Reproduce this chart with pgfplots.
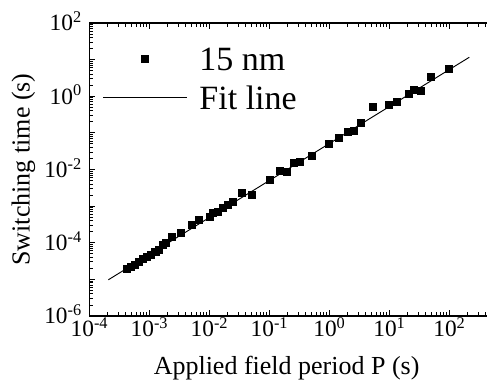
\documentclass[border=0pt]{standalone}
\usepackage{fontspec}
\setmainfont{Liberation Serif}
\usepackage{pgfplots}
\pgfplotsset{compat=1.18}
\pgfplotsset{
  mylegmark/.style={legend image code/.code={\draw[mark repeat=2,mark phase=2,##1] plot coordinates {(0pt,0pt) (31.5pt,0pt) (63pt,0pt)};}},
  mylegline/.style={legend image code/.code={\draw[##1] plot coordinates {(0pt,0pt) (63pt,0pt)};}},
}
\begin{document}
\begin{tikzpicture}
\begin{axis}[
  xmode=log, ymode=log,
  scale only axis,
  width=299.7pt, height=219.75pt,
  xmin=1e-4, xmax=457.1, ymin=1e-6, ymax=1e2,
  axis line style={line width=0.9pt},
  xtick pos=both, ytick pos=left,
  tick align=inside,
  major tick length=4.5pt, minor tick length=2.8pt,
  every tick/.style={black, line width=0.7pt},
  xtick={1e-4,1e-3,1e-2,1e-1,1,10,100},
  xticklabels={10\textsuperscript{-4},10\textsuperscript{-3},10\textsuperscript{-2},10\textsuperscript{-1},10\textsuperscript{0},10\textsuperscript{1},10\textsuperscript{2}},
  minor xtick={2e-4,3e-4,4e-4,5e-4,6e-4,7e-4,8e-4,9e-4,
    2e-3,3e-3,4e-3,5e-3,6e-3,7e-3,8e-3,9e-3,
    2e-2,3e-2,4e-2,5e-2,6e-2,7e-2,8e-2,9e-2,
    0.2,0.3,0.4,0.5,0.6,0.7,0.8,0.9,
    2,3,4,5,6,7,8,9,
    20,30,40,50,60,70,80,90,
    200,300,400},
  ytick={1e-6,1e-5,1e-4,1e-3,1e-2,1e-1,1,10,100},
  yticklabels={10\textsuperscript{-6},,10\textsuperscript{-4},,10\textsuperscript{-2},,10\textsuperscript{0},,10\textsuperscript{2}},
  minor ytick={2e-6,3e-6,4e-6,5e-6,6e-6,7e-6,8e-6,9e-6,
    2e-5,3e-5,4e-5,5e-5,6e-5,7e-5,8e-5,9e-5,
    2e-4,3e-4,4e-4,5e-4,6e-4,7e-4,8e-4,9e-4,
    2e-3,3e-3,4e-3,5e-3,6e-3,7e-3,8e-3,9e-3,
    2e-2,3e-2,4e-2,5e-2,6e-2,7e-2,8e-2,9e-2,
    0.2,0.3,0.4,0.5,0.6,0.7,0.8,0.9,
    2,3,4,5,6,7,8,9,
    20,30,40,50,60,70,80,90},
  xticklabel style={font=\fontsize{17.5}{20}\selectfont, inner sep=0pt, anchor=base, yshift=-15.5pt},
  yticklabel style={font=\fontsize{17.5}{20}\selectfont, inner sep=0pt, anchor=base east, xshift=-5.5pt, yshift=-5.9pt},
  xlabel={Applied field period P (s)},
  ylabel={Switching time (s)},
  xlabel style={font=\fontsize{19.5}{22}\selectfont, at={(rel axis cs:0.5,0)}, anchor=base, yshift=-44.25pt, xshift=-2pt},
  ylabel style={font=\fontsize{19.5}{22}\selectfont, at={(rel axis cs:0,0.5)}, anchor=center, yshift=49.5pt},
  legend style={at={(rel axis cs:0,1)}, anchor=north west, xshift=9.6pt, yshift=-17.5pt,
    draw=none, fill=none, font=\fontsize{25.5}{30}\selectfont,
    row sep=11pt, column sep=9pt, inner sep=0pt,
    nodes={inner sep=0pt, text height=18pt, text depth=0pt}},
  legend cell align=left,
]
\coordinate (sw) at (rel axis cs:0,0);
\addplot[only marks, mark=square*, mark size=2.75pt, black, mylegmark]
  coordinates {
  (4.22e-4,1.94e-5) (4.92e-4,2.20e-5) (5.73e-4,2.49e-5) (6.68e-4,3.01e-5)
  (7.80e-4,3.64e-5) (9.08e-4,4.12e-5) (1.06e-3,4.68e-5) (1.24e-3,5.65e-5)
  (1.44e-3,6.40e-5) (1.68e-3,8.77e-5) (1.88e-3,9.93e-5) (2.37e-3,1.45e-4)
  (3.35e-3,1.86e-4) (5.11e-3,3.08e-4) (6.68e-3,4.22e-4) (1.02e-2,5.09e-4)
  (1.14e-2,6.55e-4) (1.39e-2,6.97e-4) (1.68e-2,8.95e-4) (2.03e-2,1.08e-3)
  (2.47e-2,1.31e-3) (3.48e-2,2.30e-3) (5.11e-2,2.03e-3) (0.102,5.20e-3)
  (0.150,9.16e-3) (0.196,8.60e-3) (0.256,1.51e-2) (0.322,1.61e-2)
  (0.511,2.35e-2) (0.982,5.00e-2) (1.44,7.28e-2) (2.03,0.106)
  (2.56,0.113) (3.35,0.187) (5.31,0.511) (9.82,0.579)
  (13.3,0.699) (21.1,1.16) (25.6,1.49) (33.5,1.40)
  (49.2,3.36) (98.2,5.56)
  };
\addlegendentry{15 nm}
\addplot[black, line width=0.7pt, mark=none, mylegline]
  coordinates {(2.06e-4,9.73e-6) (214,11.6)};
\addlegendentry{Fit line}
\end{axis}
\pgfresetboundingbox
\path ([shift={(-67.125pt,-56.25pt)}]sw) rectangle ([shift={(298.125pt,237pt)}]sw);
\end{tikzpicture}
\end{document}
